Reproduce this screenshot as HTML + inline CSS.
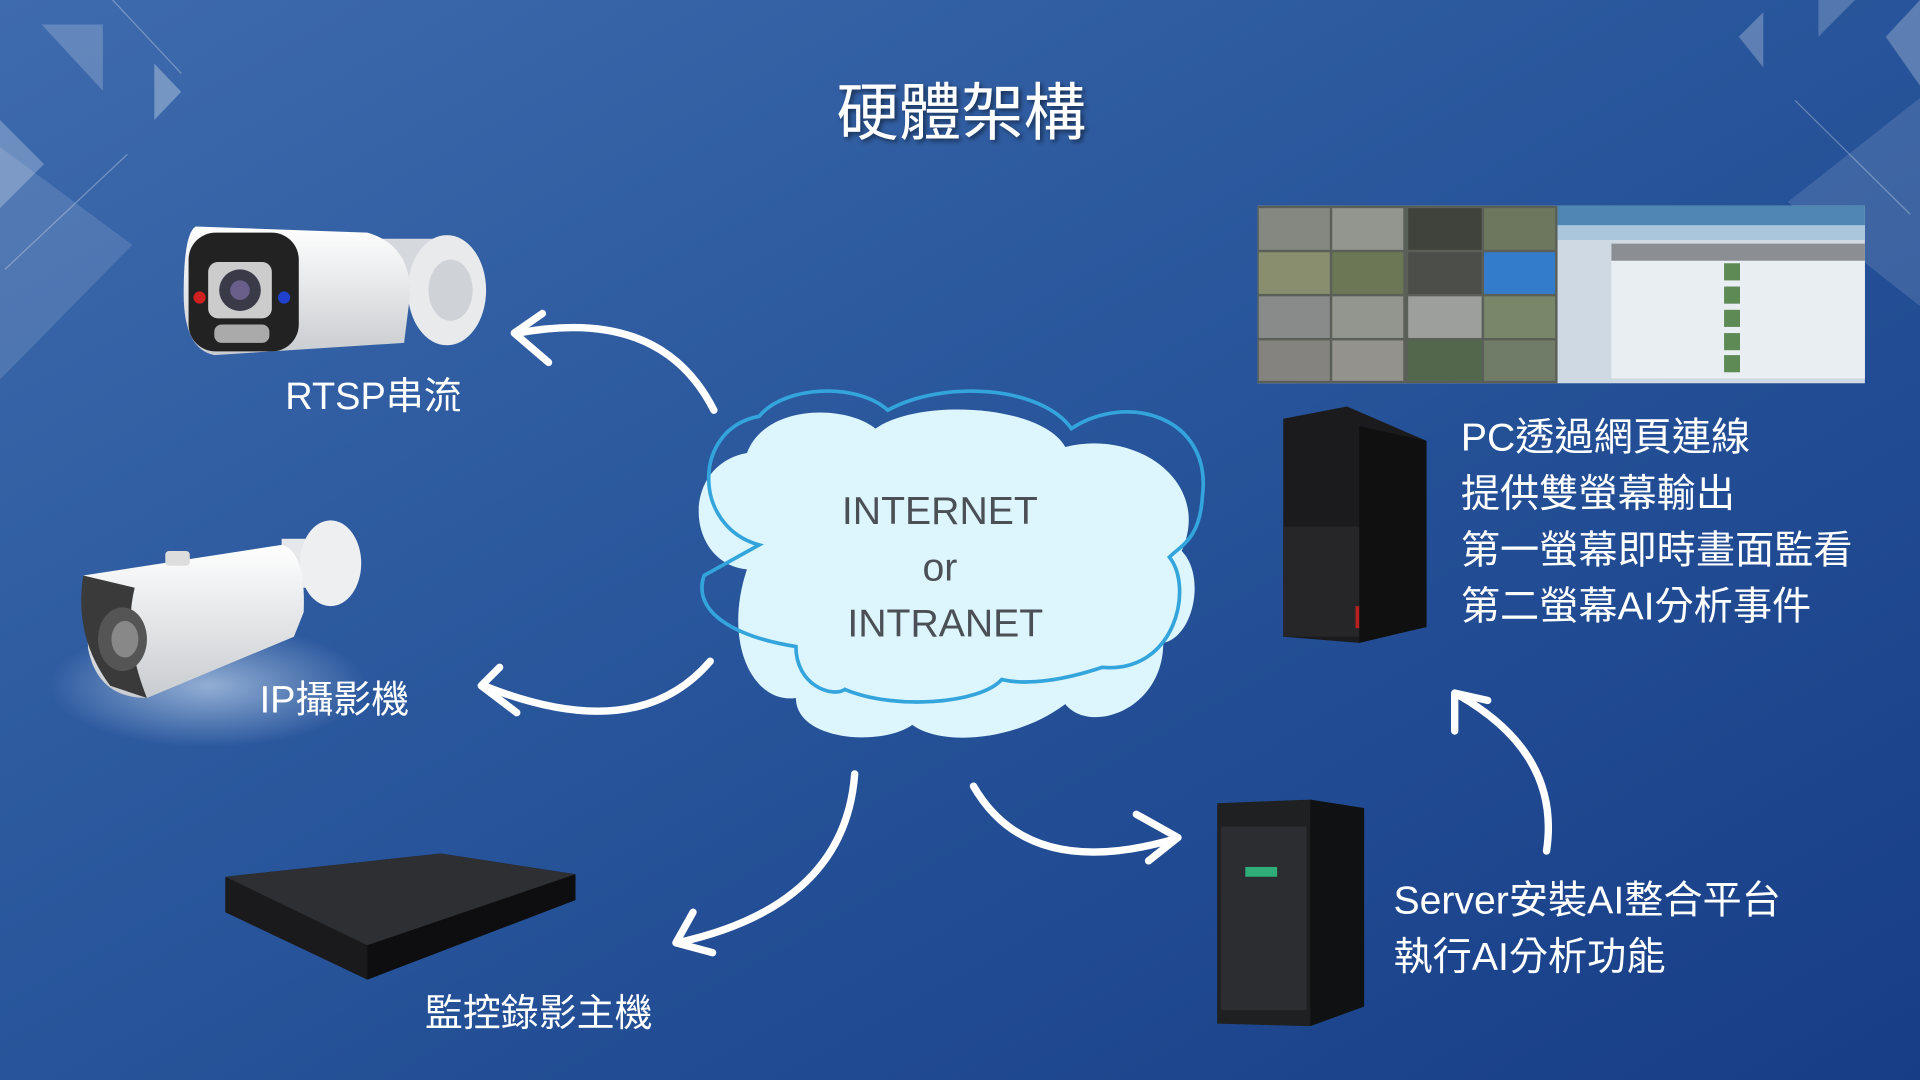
<!DOCTYPE html>
<html><head><meta charset="utf-8"><style>
html,body{margin:0;padding:0;width:1920px;height:1080px;overflow:hidden;background:#2b539a}
svg{display:block}
text{font-family:"Liberation Sans","Noto Sans CJK TC",sans-serif}
</style></head><body>
<svg width="1920" height="1080" viewBox="0 0 1568 882" xmlns="http://www.w3.org/2000/svg">
<defs>
<linearGradient id="bg" x1="0" y1="0" x2="1" y2="1">
<stop offset="0" stop-color="#3e6bad"/><stop offset="0.5" stop-color="#27549a"/><stop offset="1" stop-color="#173d86"/>
</linearGradient>
<linearGradient id="cam" x1="0" y1="0" x2="0" y2="1"><stop offset="0" stop-color="#ffffff"/><stop offset="1" stop-color="#c9ccd0"/></linearGradient>
<radialGradient id="glow"><stop offset="0" stop-color="#d6e6f7" stop-opacity="0.6"/><stop offset="1" stop-color="#d6e6f7" stop-opacity="0"/></radialGradient>
<filter id="sh"><feDropShadow dx="2" dy="2" stdDeviation="2" flood-color="#000" flood-opacity="0.5"/></filter>
</defs>
<rect width="1568" height="882" fill="url(#bg)"/>
<g fill="#ffffff">
<polygon points="0,98 36,134 0,170" opacity="0.25"/>
<polygon points="34,20 84,20 84,74" opacity="0.2"/>
<polygon points="126,52 148,75 126,98" opacity="0.3"/>
<polygon points="0,120 108,200 0,310" opacity="0.12"/>
<polygon points="1420,30 1440,10 1440,55" opacity="0.25"/>
<polygon points="1485,0 1515,0 1485,30" opacity="0.2"/>
<polygon points="1540,30 1568,0 1568,70" opacity="0.25"/>
<polygon points="1568,80 1460,165 1568,250" opacity="0.12"/>
</g>
<line x1="4" y1="220" x2="104" y2="126" stroke="#fff" stroke-opacity="0.3"/>
<line x1="92" y1="0" x2="148" y2="60" stroke="#fff" stroke-opacity="0.3"/>
<line x1="1466" y1="82" x2="1560" y2="175" stroke="#fff" stroke-opacity="0.3"/>

<text x="785" y="110" text-anchor="middle" font-size="51" fill="#fff" filter="url(#sh)">硬體架構</text>

<g>
<rect x="300" y="195" width="60" height="40" rx="6" fill="#d5d8dc"/>
<ellipse cx="365" cy="237" rx="32" ry="45" fill="#e8eaec"/>
<ellipse cx="368" cy="237" rx="18" ry="25" fill="#cfd2d6"/>
<path d="M160,185 L300,190 Q335,200 335,240 L330,280 L175,290 Q150,285 150,240 Q150,190 160,185Z" fill="url(#cam)"/>
<rect x="154" y="190" width="90" height="97" rx="22" fill="#222"/>
<rect x="170" y="214" width="52" height="46" rx="8" fill="#ccc"/>
<circle cx="196" cy="237" r="17" fill="#3a3a48"/>
<circle cx="196" cy="237" r="8" fill="#6a5f8a"/>
<circle cx="163" cy="243" r="5" fill="#d02020"/>
<circle cx="232" cy="243" r="5" fill="#2040d0"/>
<rect x="175" y="265" width="45" height="15" rx="6" fill="#aaa"/>
</g>
<text x="233" y="334" font-size="31" fill="#fff">RTSP串流</text>

<g>
<ellipse cx="170" cy="560" rx="130" ry="50" fill="url(#glow)"/>
<rect x="230" y="440" width="40" height="40" fill="#e5e7ea"/>
<ellipse cx="270" cy="460" rx="25" ry="35" fill="#eeeff1"/>
<path d="M68,470 L230,445 Q250,450 248,500 L240,520 L120,570 Q80,570 72,530 Z" fill="url(#cam)"/>
<path d="M68,470 Q60,520 90,560 L120,570 Q100,520 110,480 Z" fill="#3a3a3a"/>
<ellipse cx="100" cy="522" rx="20" ry="26" fill="#555"/>
<ellipse cx="102" cy="522" rx="11" ry="15" fill="#888"/>
<rect x="135" y="450" width="20" height="12" rx="3" fill="#ddd"/>
</g>
<text x="212" y="582" font-size="31" fill="#fff">IP攝影機</text>

<g>
<polygon points="184,716 360,697 470,714 470,735 300,800 184,745" fill="#1a1a1c"/>
<polygon points="184,716 360,697 470,714 300,772" fill="#2e2f33"/>
<polygon points="300,772 470,714 470,735 300,800" fill="#0e0e10"/>
</g>
<text x="347" y="838" font-size="31" fill="#fff">監控錄影主機</text>

<g>
<rect x="1027" y="168" width="496" height="145" fill="#cfd9e3"/>
<rect x="1027" y="168" width="245" height="145" fill="#5a5f58"/>
<g opacity="0.9">
<rect x="1028" y="170" width="58" height="34" fill="#8a8d85"/><rect x="1088" y="170" width="58" height="34" fill="#9a9c95"/><rect x="1150" y="170" width="60" height="34" fill="#3d4038"/><rect x="1212" y="170" width="58" height="34" fill="#6f7a5e"/>
<rect x="1028" y="206" width="58" height="34" fill="#8f9472"/><rect x="1088" y="206" width="58" height="34" fill="#6d7a55"/><rect x="1150" y="206" width="60" height="34" fill="#4a4d48"/><rect x="1212" y="206" width="58" height="34" fill="#2f7fd8"/>
<rect x="1028" y="242" width="58" height="34" fill="#8e9090"/><rect x="1088" y="242" width="58" height="34" fill="#9a9b96"/><rect x="1150" y="242" width="60" height="34" fill="#a5a7a4"/><rect x="1212" y="242" width="58" height="34" fill="#7c8c6c"/>
<rect x="1028" y="278" width="58" height="33" fill="#8a8884"/><rect x="1088" y="278" width="58" height="33" fill="#9a9892"/><rect x="1150" y="278" width="60" height="33" fill="#52684a"/><rect x="1212" y="278" width="58" height="33" fill="#73806a"/>
</g>
<rect x="1272" y="168" width="251" height="16" fill="#4f87b3"/>
<rect x="1272" y="184" width="251" height="12" fill="#a9c6dc"/>
<rect x="1316" y="199" width="207" height="14" fill="#8b8f94"/>
<rect x="1316" y="213" width="207" height="96" fill="#e9eef2"/>
<g fill="#5d8a55"><rect x="1408" y="215" width="13" height="14"/><rect x="1408" y="234" width="13" height="14"/><rect x="1408" y="253" width="13" height="14"/><rect x="1408" y="272" width="13" height="14"/><rect x="1408" y="290" width="13" height="14"/></g>
</g>

<g>
<polygon points="1048,342 1100,332 1165,360 1165,512 1110,525 1048,520" fill="#1b1b1d"/>
<polygon points="1110,348 1165,360 1165,512 1110,525" fill="#101011"/>
<rect x="1048" y="430" width="62" height="90" fill="#262628"/>
<rect x="1107" y="495" width="3" height="18" fill="#b82020"/>
</g>
<text font-size="32" fill="#fff">
<tspan x="1193" y="368">PC透過網頁連線</tspan>
<tspan x="1193" y="414">提供雙螢幕輸出</tspan>
<tspan x="1193" y="460">第一螢幕即時畫面監看</tspan>
<tspan x="1193" y="506">第二螢幕AI分析事件</tspan>
</text>

<g>
<polygon points="994,656 1070,653 1114,660 1114,822 1070,838 994,836" fill="#1f2022"/>
<polygon points="1070,653 1114,660 1114,822 1070,838" fill="#101112"/>
<rect x="997" y="675" width="70" height="150" fill="#2c2d30"/>
<rect x="1017" y="708" width="26" height="8" fill="#2fae7a"/>
</g>
<text font-size="32" fill="#fff">
<tspan x="1138" y="746">Server安裝AI整合平台</tspan>
<tspan x="1138" y="792">執行AI分析功能</tspan>
</text>

<path d="M610,465 C560,460 555,380 610,370 C625,330 690,330 715,350 C750,325 850,330 870,365 C930,350 990,395 965,450 C985,470 975,520 950,525 C950,580 890,600 870,575 C830,605 770,610 745,592 C720,610 650,605 650,570 C615,575 590,525 610,465Z" fill="#ddf5fd"/>
<path d="M620,445 C565,430 565,350 620,340 C640,315 700,312 725,335 C770,310 850,315 875,350 C920,320 990,340 982,405 C980,440 965,445 955,455 C975,480 960,550 900,545 C870,555 840,560 818,555 C800,575 730,580 690,563 C680,570 650,560 650,528 C600,520 565,500 575,470 Z" fill="none" stroke="#33a5dc" stroke-width="3"/>
<text font-size="32" fill="#4b5056" text-anchor="middle">
<tspan x="772" y="428">INTERNET</tspan>
<tspan x="772" y="474">or</tspan>
<tspan x="772" y="520">INTRANET</tspan>
</text>

<g fill="none" stroke="#fff" stroke-width="6" stroke-linecap="round" stroke-linejoin="round">
<path d="M583,335 Q540,250 423,272"/><path d="M443,256 L420,272 L448,296"/>
<path d="M580,540 Q520,610 395,560"/><path d="M408,545 L393,560 L422,582"/>
<path d="M698,632 Q690,740 553,770"/><path d="M566,745 L552,770 L582,778"/>
<path d="M795,642 Q840,720 960,685"/><path d="M928,665 L962,684 L938,703"/>
<path d="M1263,695 Q1275,615 1190,567"/><path d="M1188,597 L1188,566 L1215,572"/>
</g>
</svg>
</body></html>
